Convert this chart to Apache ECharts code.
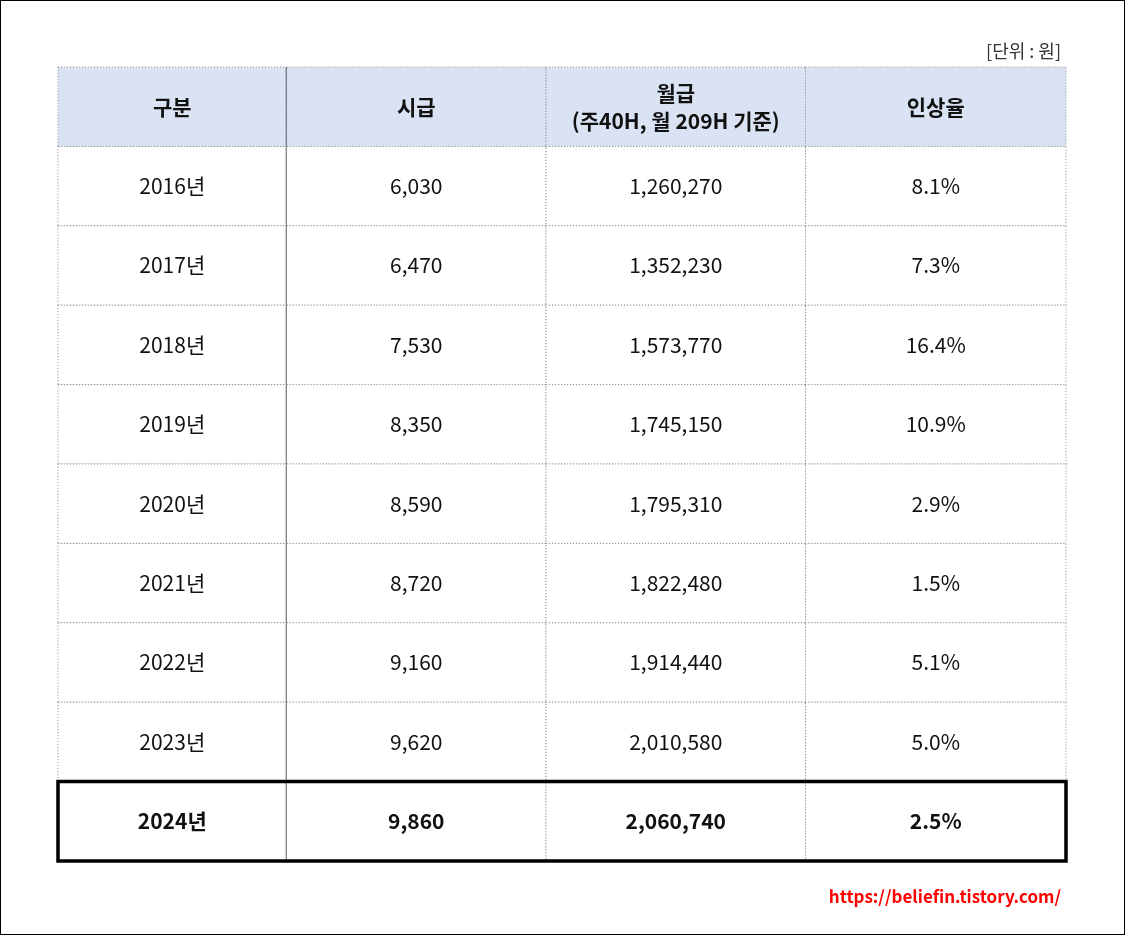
<!DOCTYPE html>
<html><head><meta charset="utf-8">
<script src="https://cdn.jsdelivr.net/npm/echarts@6/dist/echarts.min.js"></script>
<style>html,body{margin:0;padding:0;background:#fff}#c{width:1125px;height:935px;box-sizing:border-box;border:1px solid #000}</style>
</head><body><div id="c"></div>
<script>
const headers = ['구분', '시급', '월급\n(주40H, 월 209H 기준)', '인상율'];
const years = ['2016년','2017년','2018년','2019년','2020년','2021년','2022년','2023년','2024년'];
const hourly = ['6,030','6,470','7,530','8,350','8,590','8,720','9,160','9,620','9,860'];
const monthly = ['1,260,270','1,352,230','1,573,770','1,745,150','1,795,310','1,822,480','1,914,440','2,010,580','2,060,740'];
const rates = ['8.1%','7.3%','16.4%','10.9%','2.9%','1.5%','5.1%','5.0%','2.5%'];
const colEdges = [0, 229, 489, 749, 1010];

const rowNames = ['header'].concat(years);
const cells = [];
headers.forEach((h, c) => cells.push([c, 0, h]));
years.forEach((y, i) => {
  [y, hourly[i], monthly[i], rates[i]].forEach((v, c) => cells.push([c, i + 1, v]));
});
const lastRow = rowNames.length - 1;
const font = '"Noto Sans CJK KR", "Noto Sans", sans-serif';

const chart = echarts.init(document.getElementById('c'));
chart.setOption({
  animation: false,
  title: [
    {text: '[단위 : 원]', right: 58, top: 36, textStyle: {fontFamily: font, fontSize: 18, fontWeight: 'normal', color: '#333'}},
    {text: 'https://beliefin.tistory.com/', right: 58, top: 882, textStyle: {fontFamily: font, fontSize: 17, fontWeight: 'bold', color: '#ff0000'}}
  ],
  grid: {left: 57, right: 58, top: 66, bottom: 73},
  xAxis: {type: 'value', min: 0, max: colEdges[colEdges.length - 1], show: false},
  yAxis: {type: 'category', data: rowNames, inverse: true, show: false},
  series: [{
    type: 'custom',
    data: cells,
    renderItem: function (params, api) {
      const c = api.value(0), r = api.value(1);
      const text = cells[params.dataIndex][2];
      const p0 = api.coord([colEdges[c], r]);
      const p1 = api.coord([colEdges[c + 1], r]);
      const h = api.size([0, 1])[1];
      const x = p0[0], y = p0[1] - h / 2, w = p1[0] - p0[0];
      const children = [{
        type: 'rect', shape: {x: x, y: y, width: w, height: h},
        style: {fill: r === 0 ? '#dae3f3' : '#fff', stroke: '#8a8a8a', lineWidth: 1, lineDash: [1, 2]}
      }];
      if (c === 0) {
        children.push({type: 'line', shape: {x1: x + w, y1: y, x2: x + w, y2: y + h},
          style: {stroke: '#222', lineWidth: 1.5}});
      }
      children.push({
        type: 'text',
        style: {text: text, x: x + w / 2, y: p0[1], align: 'center', verticalAlign: 'middle',
          fontFamily: font, fontSize: 21, lineHeight: 28,
          fontWeight: (r === 0 || r === lastRow) ? 'bold' : 'normal', fill: '#111'}
      });
      return {type: 'group', children: children};
    }
  }, {
    type: 'custom',
    z: 10,
    data: [[0, lastRow]],
    renderItem: function (params, api) {
      const p0 = api.coord([colEdges[0], lastRow]);
      const p1 = api.coord([colEdges[colEdges.length - 1], lastRow]);
      const h = api.size([0, 1])[1];
      return {type: 'rect', shape: {x: p0[0], y: p0[1] - h / 2, width: p1[0] - p0[0], height: h},
        style: {fill: null, stroke: '#000', lineWidth: 3.5}};
    }
  }]
});
</script></body></html>
